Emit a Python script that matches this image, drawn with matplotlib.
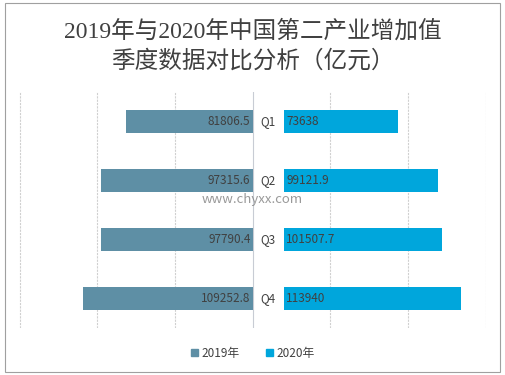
import matplotlib
matplotlib.use("Agg")
import matplotlib.pyplot as plt
from matplotlib.patches import Rectangle

plt.rcParams['font.family'] = ['Noto Sans CJK SC', 'DejaVu Sans']

categories = ["Q1", "Q2", "Q3", "Q4"]
values_2019 = [81806.5, 97315.6, 97790.4, 109252.8]
values_2020 = [73638, 99121.9, 101507.7, 113940]
label_2019 = ["81806.5", "97315.6", "97790.4", "109252.8"]
label_2020 = ["73638", "99121.9", "101507.7", "113940"]
series_names = ["2019年", "2020年"]
title_lines = ["2019年与2020年中国第二产业增加值", "季度数据对比分析（亿元）"]

c2019 = "#5E8FA5"
c2020 = "#00A6DC"
gap = 20000

W, H = 506, 375
fig = plt.figure(figsize=(W / 100, H / 100), dpi=100)
ax = fig.add_axes([19.5 / W, 1 - 328 / H, (486 - 19.5) / W, (328 - 92) / H])

ypos = list(range(len(categories)))
ax.barh(ypos, [-v for v in values_2019], height=0.385, color=c2019, zorder=3)
ax.barh(ypos, values_2020, left=gap, height=0.385, color=c2020, zorder=3)

for i in ypos:
    ax.text(-1500, i, label_2019[i], ha="right", va="center", fontsize=8.5, color="#404040", zorder=4)
    ax.text(gap + 1500, i, label_2020[i], ha="left", va="center", fontsize=8.5, color="#404040", zorder=4)
    ax.text(gap / 2, i, categories[i], ha="center", va="center", fontsize=8.5, color="#404040", zorder=4)

ax.set_xlim(-150000, 150000)
ax.set_ylim(3.5, -0.5)
for x in range(-150000, 150001, 50000):
    ax.axvline(x, color="#D0D0D0" if x != 0 else "#C8CCD4", lw=0.8,
               ls=(0, (2, 1)) if x != 0 else "-", zorder=1)
ax.set_xticks([])
ax.set_yticks([])
for s in ax.spines.values():
    s.set_visible(False)

title_family = ['Liberation Serif', 'Noto Sans CJK SC']
fig.text(0.5, 1 - 31 / H, title_lines[0], ha="center", va="center", fontsize=17,
         color="#404040", family=title_family)
fig.text(0.5, 1 - 61 / H, title_lines[1], ha="center", va="center", fontsize=17,
         color="#404040", family=title_family)

# legend
handles = [Rectangle((0, 0), 1, 1, color=c2019), Rectangle((0, 0), 1, 1, color=c2020)]
fig.legend(handles, series_names, loc="center", bbox_to_anchor=(0.5, 1 - 353 / H), ncol=2,
           frameon=False, fontsize=8.5, handlelength=0.6, handleheight=0.6, handletextpad=0.3,
           columnspacing=2.2, labelcolor="#404040")

# watermark url
fig.text(252 / W, 1 - 200 / H, "www.chyxx.com", ha="center", va="center", fontsize=9.5,
         color="#808080", alpha=0.8)

# border
fig.patches.append(Rectangle((5 / W, 1 - 372 / H), 495 / W, 369 / H, transform=fig.transFigure,
                             fill=False, edgecolor="#A0A0A0", lw=0.8))

fig.savefig("out.png", dpi=100)
